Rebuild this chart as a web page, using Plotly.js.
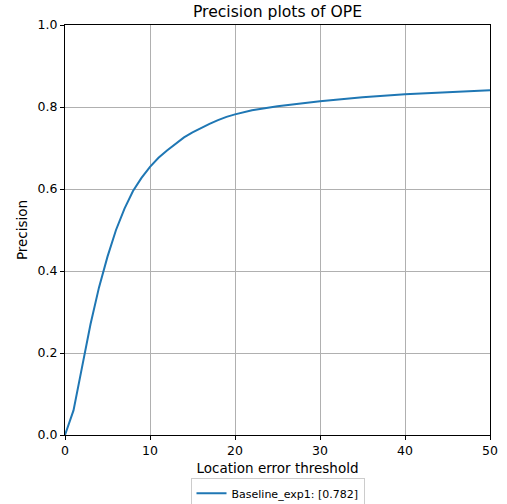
<!DOCTYPE html>
<html>
<head>
<meta charset="utf-8">
<script src="https://cdn.plot.ly/plotly-3.0.1.min.js"></script>
<style>html,body{margin:0;padding:0;background:#fff;}#chart{width:507px;height:504px;}</style>
</head>
<body>
<div id="chart"></div>
<script>
const thresholds = [0,1,2,3,4,5,6,7,8,9,10,11,12,13,14,15,16,17,18,19,20,22,25,30,35,40,45,50];
const precision = [0,0.06,0.165,0.27,0.36,0.435,0.50,0.552,0.595,0.627,0.654,0.676,0.694,0.711,0.726,0.738,0.749,0.759,0.768,0.776,0.782,0.792,0.802,0.814,0.824,0.831,0.836,0.841];
const seriesName = 'Baseline_exp1: [0.782]';
const xTicks = [0,10,20,30,40,50];
const yTicks = [0,0.2,0.4,0.6,0.8,1.0];
const yTickText = ['0.0','0.2','0.4','0.6','0.8','1.0'];

const font = 'DejaVu Sans, sans-serif';
Plotly.newPlot('chart', [{
  x: thresholds, y: precision, type: 'scatter', mode: 'lines',
  name: seriesName, line: {color: '#1f77b4', width: 2}
}], {
  width: 507, height: 504,
  margin: {l: 65, r: 17, t: 25, b: 69, autoexpand: false},
  paper_bgcolor: '#fff', plot_bgcolor: '#fff',
  font: {family: font, size: 12.5, color: '#000'},
  title: {text: 'Precision plots of OPE', font: {family: font, size: 15.6, color: '#000'},
    x: 0.5, xref: 'paper', xanchor: 'center', y: 0.978, yref: 'container', yanchor: 'middle'},
  showlegend: true,
  legend: {orientation: 'h', x: 0.5, xref: 'paper', xanchor: 'center', y: 0.052, yref: 'container', yanchor: 'top',
    bordercolor: '#cccccc', borderwidth: 1, font: {family: font, size: 11}, bgcolor: '#fff', itemwidth: 30},
  xaxis: {range: [0, 50], tickvals: xTicks, showgrid: true, gridcolor: '#b0b0b0', gridwidth: 1,
    showline: true, linecolor: '#000', linewidth: 1, mirror: true, ticks: 'outside', ticklen: 4, tickcolor: '#000',
    zeroline: false, automargin: false, title: {text: 'Location error threshold', font: {family: font, size: 13.5}, standoff: 6}},
  yaxis: {range: [0, 1], tickvals: yTicks, ticktext: yTickText, showgrid: true, gridcolor: '#b0b0b0', gridwidth: 1,
    showline: true, linecolor: '#000', linewidth: 1, mirror: true, ticks: 'outside', ticklen: 4, tickcolor: '#000',
    zeroline: false, automargin: false, title: {text: 'Precision', font: {family: font, size: 13.5}, standoff: 6}}
}, {displayModeBar: false, staticPlot: true});
</script>
</body>
</html>
